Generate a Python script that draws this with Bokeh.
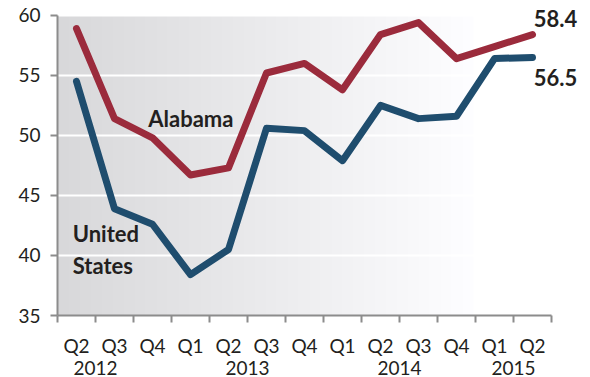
import numpy as np
from bokeh.plotting import figure
from bokeh.models import FixedTicker, LinearAxis, Range1d, Label
from bokeh.embed import file_html
from bokeh.resources import INLINE

quarters = ["Q2", "Q3", "Q4", "Q1", "Q2", "Q3", "Q4", "Q1", "Q2", "Q3", "Q4", "Q1", "Q2"]
years = ["2012", "2013", "2014", "2015"]
year_pos = [0.5, 4.5, 8.5, 11.5]
alabama = [58.9, 51.4, 49.8, 46.7, 47.3, 55.2, 56.0, 53.8, 58.4, 59.4, 56.4, 57.4, 58.4]
united_states = [54.5, 43.9, 42.6, 38.4, 40.5, 50.6, 50.4, 47.9, 52.5, 51.4, 51.6, 56.4, 56.5]
y_ticks = [35, 40, 45, 50, 55, 60]

RED = "#9B2B3C"
BLUE = "#1F4D6E"
FONT = "Lato"
TXT = "#231F20"

x = list(range(len(quarters)))
x_lo, x_hi = -0.5, len(quarters) - 0.5
y_lo, y_hi = 35, 60

p = figure(width=590, height=377, output_backend="svg", toolbar_location=None,
           x_range=Range1d(x_lo, x_hi + 1), y_range=Range1d(y_lo, 61.24),
           min_border_left=57, min_border_right=1, min_border_top=0, min_border_bottom=60)
p.outline_line_color = None
p.background_fill_color = "white"

# gradient background
n = 400
x_end = 10.45
grad = np.linspace(216, 254, n).astype(np.uint32)
img = np.zeros((1, n), dtype=np.uint32)
view = img.view(dtype=np.uint8).reshape((1, n, 4))
view[0, :, 0] = grad
view[0, :, 1] = grad
view[0, :, 2] = np.minimum(grad + 2, 255)
view[0, :, 3] = 255
p.image_rgba(image=[img], x=x_lo, y=y_lo, dw=x_end - x_lo, dh=y_hi - y_lo, level="image")

# grid
p.xgrid.grid_line_color = None
p.ygrid.grid_line_color = "white"
p.ygrid.grid_line_width = 2
p.ygrid.ticker = FixedTicker(ticks=y_ticks)
p.ygrid.bounds = (x_lo, x_hi)

p.line(x, alabama, line_color=RED, line_width=7, line_cap="round", line_join="round")
p.line(x, united_states, line_color=BLUE, line_width=7, line_cap="round", line_join="round")

label_specs = [
    (1.89, 51.45, "Alabama"),
    (-0.1, 41.8, "United"),
    (-0.1, 39.2, "States"),
    (12.03, 59.75, "58.4"),
    (12.03, 54.8, "56.5"),
]
for lx, ly, lt in label_specs:
    p.add_layout(Label(x=lx, y=ly, text=lt, text_font=FONT, text_font_style="bold",
                       text_font_size="22px", text_color=TXT, text_align="left",
                       text_baseline="middle"))

# y axis
ya = p.yaxis[0]
ya.bounds = (y_lo, y_hi)
ya.ticker = FixedTicker(ticks=y_ticks)
ya.axis_line_color = "#8C8C8C"
ya.axis_line_width = 2
ya.major_tick_line_color = "#8C8C8C"
ya.major_tick_line_width = 2
ya.major_tick_out = 7
ya.major_tick_in = 0
ya.minor_tick_line_color = None
ya.major_label_standoff = 10
ya.major_label_text_font = FONT
ya.major_label_text_font_size = "19px"
ya.major_label_text_color = TXT

# x axis (quarters)
xa = p.xaxis[0]
xa.bounds = (x_lo, x_hi)
xa.ticker = FixedTicker(ticks=x, minor_ticks=[i - 0.5 for i in range(len(quarters) + 1)])
xa.major_label_overrides = {i: q for i, q in enumerate(quarters)}
xa.axis_line_color = "#8C8C8C"
xa.axis_line_width = 2
xa.major_tick_line_color = None
xa.major_tick_out = 0
xa.major_tick_in = 0
xa.minor_tick_line_color = "#8C8C8C"
xa.minor_tick_line_width = 2
xa.minor_tick_out = 7
xa.minor_tick_in = 0
xa.major_label_standoff = 11
xa.major_label_text_font = FONT
xa.major_label_text_font_size = "19px"
xa.major_label_text_color = TXT

# year axis
ya2 = LinearAxis(ticker=FixedTicker(ticks=year_pos),
                 major_label_overrides={pos: yr for pos, yr in zip(year_pos, years)})
ya2.axis_line_color = None
ya2.major_tick_line_color = None
ya2.minor_tick_line_color = None
ya2.major_tick_out = 0
ya2.major_tick_in = 0
ya2.major_label_standoff = 1
ya2.major_label_text_font = FONT
ya2.major_label_text_font_size = "19px"
ya2.major_label_text_color = TXT
p.add_layout(ya2, "below")

open("out.html", "w").write(file_html(p, INLINE))
